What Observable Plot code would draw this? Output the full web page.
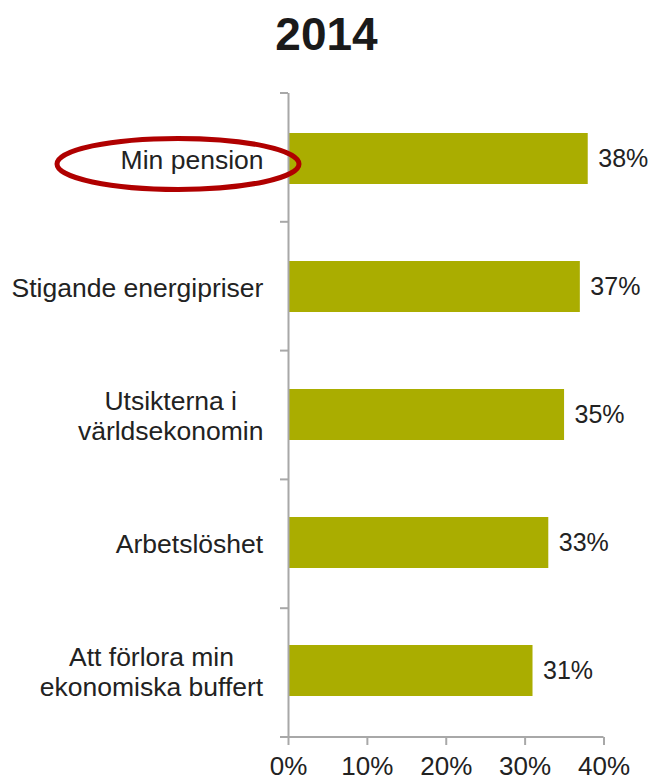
<!DOCTYPE html>
<html>
<head>
<meta charset="utf-8">
<script src="https://cdn.jsdelivr.net/npm/d3@7"></script>
<script src="https://cdn.jsdelivr.net/npm/@observablehq/plot@0.6"></script>
<style>
  html, body { margin: 0; padding: 0; background: white; }
  #wrap { position: relative; width: 653px; height: 781px; overflow: hidden; }
  #title { position: absolute; left: 0; top: 11px; width: 653px; text-align: center;
           font: bold 46px "Liberation Sans", Arial, sans-serif; line-height: 46px; color: #1a1a1a; }
</style>
</head>
<body>
<div id="wrap"><div id="title"></div></div>
<script>
const title = "2014";
const categories = ["Min pension", "Stigande energipriser", "Utsikterna i\nvärldsekonomin", "Arbetslöshet", "Att förlora min\nekonomiska buffert"];
const values = [38, 37, 35, 33, 31];
const xTicks = [0, 10, 20, 30, 40];
const highlighted = "Min pension";

const data = categories.map((c, i) => ({cat: c, value: values[i]}));

document.getElementById("title").textContent = title;

const axisColor = "#a8a8a8";
const textColor = "#222222";

// band boundary ticks + bottom axis line, from the plot's frame dimensions
function bandTicks(...args) {
  const dims = args.find(a => a && a.marginTop !== undefined && a.width !== undefined);
  const {width, height, marginTop, marginBottom, marginLeft, marginRight} = dims;
  const n = categories.length;
  const step = (height - marginTop - marginBottom) / n;
  const g = d3.create("svg:g").attr("stroke", axisColor).attr("stroke-width", 2);
  for (let k = 0; k <= n; k++) {
    const y = marginTop + k * step;
    g.append("line").attr("x1", marginLeft - 8).attr("x2", marginLeft).attr("y1", y).attr("y2", y);
  }
  const yb = height - marginBottom;
  g.append("line").attr("x1", marginLeft).attr("x2", width - marginRight).attr("y1", yb).attr("y2", yb);
  return g.node();
}

// red ellipse annotation around the highlighted label
function ellipseMark(...args) {
  const dims = args.find(a => a && a.marginTop !== undefined && a.width !== undefined);
  const {height, marginTop, marginBottom, marginLeft} = dims;
  const n = categories.length;
  const step = (height - marginTop - marginBottom) / n;
  const i = categories.indexOf(highlighted);
  const cy = marginTop + (i + 0.5) * step + 6.5;
  return d3.create("svg:ellipse")
    .attr("cx", marginLeft - 110).attr("cy", cy)
    .attr("rx", 121).attr("ry", 25.5)
    .attr("fill", "none").attr("stroke", "#b00000").attr("stroke-width", 5)
    .node();
}

const chart = Plot.plot({
  width: 653,
  height: 781,
  marginTop: 93,
  marginBottom: 44,
  marginLeft: 288,
  marginRight: 49.5,
  style: {fontFamily: "'Liberation Sans', Arial, sans-serif", background: "white", color: textColor, overflow: "visible"},
  x: {domain: [0, 40], axis: null, label: null},
  y: {domain: categories, paddingInner: 0.6, paddingOuter: 0.3, axis: null, label: null},
  marks: [
    Plot.barX(data, {x: "value", y: "cat", fill: "#aaad00"}),
    Plot.text(data, {x: "value", y: "cat", text: d => d.value + "%", textAnchor: "start", dx: 10, fontSize: 25, fill: textColor}),
    Plot.text(data, {y: "cat", text: "cat", frameAnchor: "left", textAnchor: "middle", dx: -25, fontSize: 26.5, lineHeight: 1.15, fill: textColor, ariaDescription: "category-labels"}),
    Plot.axisX({ticks: xTicks, tickFormat: d => d + "%", tickSize: 8, tickPadding: 11, stroke: axisColor, strokeWidth: 2, fill: textColor, fontSize: 26, label: null}),
    Plot.ruleX([0], {stroke: axisColor, strokeWidth: 2}),
    bandTicks,
    ellipseMark
  ]
});

document.getElementById("wrap").prepend(chart);

// center multi-line category labels on each other, with their right edge at the frame anchor
const labels = chart.querySelectorAll('g[aria-description="category-labels"] text');
labels.forEach(t => {
  const w = t.getBBox().width;
  const tr = t.getAttribute("transform") || "";
  t.setAttribute("transform", (tr + ` translate(${-w / 2},0)`).trim());
});
</script>
</body>
</html>
